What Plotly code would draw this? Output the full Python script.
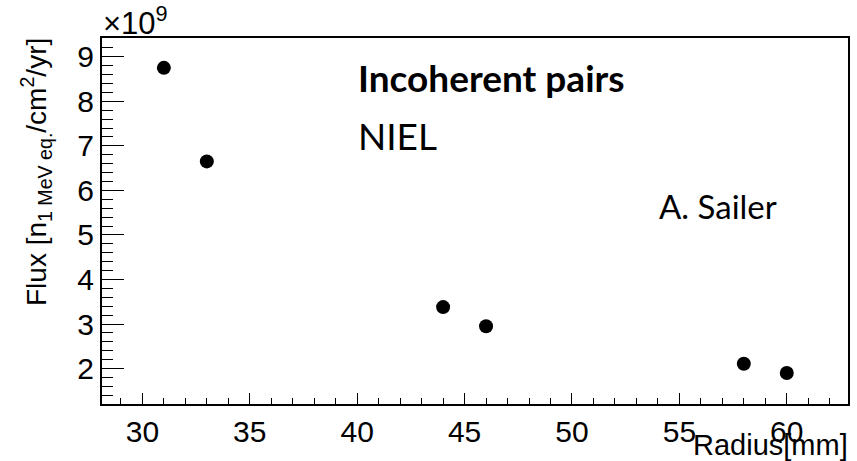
import plotly.graph_objects as go

radius_mm = [31, 33, 44, 46, 58, 60]
flux_e9 = [8.75, 6.65, 3.38, 2.95, 2.11, 1.90]

X0, X1, Y0, Y1 = 102, 848, 38, 404
W, H = 857, 461

def px(x):
    return (x - X0) / (X1 - X0)

def py(y):
    return (Y1 - y) / (Y1 - Y0)

fig = go.Figure()
fig.add_trace(go.Scatter(x=radius_mm, y=flux_e9, mode="markers",
                         marker=dict(color="black", size=14, symbol="circle"),
                         showlegend=False))

FAM = "Liberation Sans"
fig.update_layout(
    width=W, height=H,
    margin=dict(l=X0, r=W - X1, t=Y0, b=H - Y1),
    paper_bgcolor="white", plot_bgcolor="white",
    font=dict(family=FAM, size=30, color="black"),
)
fig.update_xaxes(range=[28.12, 62.85], tickmode="linear", tick0=0, dtick=5,
                 ticks="inside", ticklen=11, tickcolor="black", tickwidth=1,
                 minor=dict(dtick=1, tick0=0, ticks="inside", ticklen=6, tickcolor="black"),
                 showline=True, linecolor="black", linewidth=2, mirror=True,
                 showgrid=False, zeroline=False, automargin=False,
                 tickfont=dict(family=FAM, size=30, color="black"))
fig.update_yaxes(range=[1.205, 9.42], tickmode="linear", tick0=0, dtick=1,
                 ticks="inside", ticklen=22, tickcolor="black", tickwidth=1,
                 minor=dict(dtick=0.2, tick0=0, ticks="inside", ticklen=11, tickcolor="black"),
                 showline=True, linecolor="black", linewidth=2, mirror=True,
                 showgrid=False, zeroline=False, automargin=False,
                 tickfont=dict(family=FAM, size=30, color="black"))

ann = [
    dict(text="×10<sup>9</sup>", x=px(101), y=py(43),
         xanchor="left", yanchor="bottom",
         font=dict(family=FAM, size=31, color="black")),
    dict(text="Flux [n<sub>1 MeV eq.</sub>/cm<sup>2</sup>/yr]", textangle=-90,
         x=px(36), y=py(36), xanchor="center", yanchor="top",
         font=dict(family=FAM, size=28, color="black")),
    dict(text="Radius[mm]", x=px(850), y=py(427), xanchor="right", yanchor="top",
         font=dict(family=FAM, size=29, color="black")),
    dict(text="<b>Incoherent pairs</b>", x=px(356), y=py(77), xanchor="left", yanchor="middle",
         font=dict(family="Lato", size=37, color="black")),
    dict(text="NIEL", x=px(356), y=py(135), xanchor="left", yanchor="middle",
         font=dict(family="Lato", size=37, color="black")),
    dict(text="A. Sailer", x=px(657), y=py(206), xanchor="left", yanchor="middle",
         font=dict(family="Lato", size=33, color="black")),
]
for a in ann:
    a.update(xref="paper", yref="paper", showarrow=False)
fig.update_layout(annotations=ann)

fig.write_html("out.html")
